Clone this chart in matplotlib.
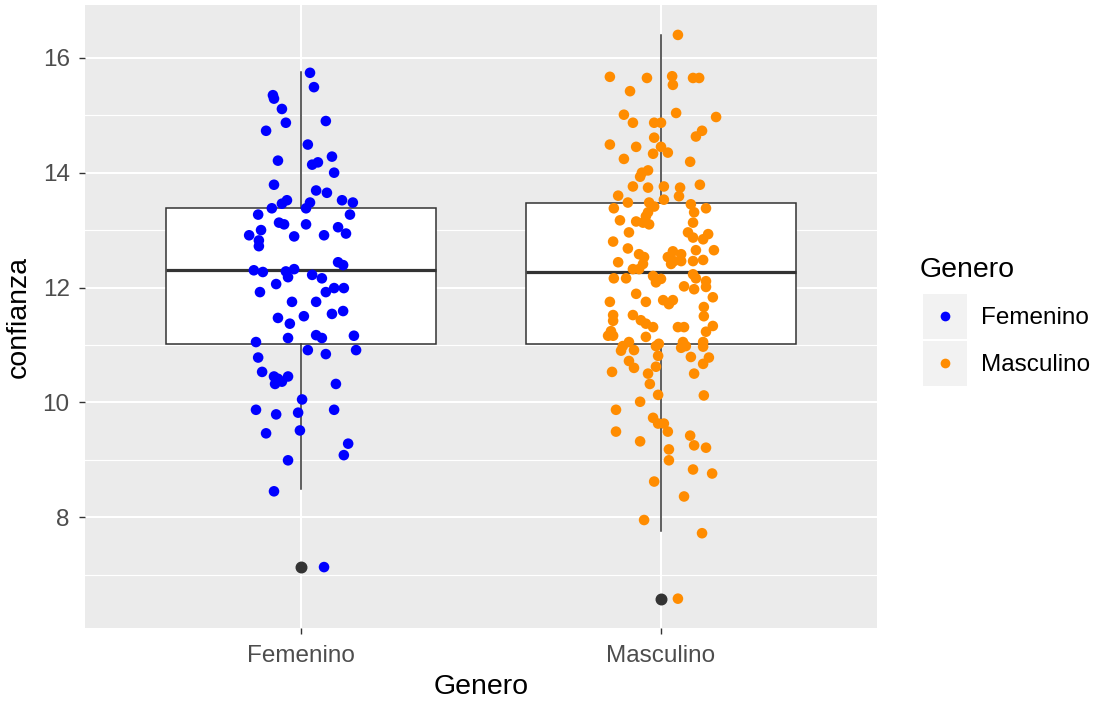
import matplotlib
matplotlib.use("Agg")
import matplotlib.pyplot as plt
from matplotlib.patches import Rectangle
from matplotlib.lines import Line2D
import numpy as np

plt.rcParams['font.family'] = ['Liberation Sans', 'DejaVu Sans']

categories = ["Femenino", "Masculino"]
colors = ["#0000FF", "#FF8C00"]

fem_values = [15.74, 15.49, 15.35, 15.29, 15.11, 14.87, 14.90, 14.73, 14.49, 14.21,
              14.28, 14.14, 14.18, 14.00, 13.79, 13.69, 13.65, 13.52, 13.46, 13.52,
              13.48, 13.48, 13.38, 13.38, 13.27, 13.27, 13.13, 13.10, 13.10, 13.05,
              12.94, 13.00, 12.91, 12.82, 12.72, 12.89, 12.91, 12.44, 12.39, 12.30,
              12.27, 12.28, 12.32, 12.18, 12.22, 12.16, 12.06, 11.92, 11.92, 11.99,
              11.99, 11.75, 11.75, 11.47, 11.50, 11.37, 11.54, 11.59, 11.12, 11.17,
              11.12, 11.16, 11.05, 10.91, 10.84, 10.91, 10.78, 10.53, 10.45, 10.41,
              10.36, 10.32, 10.45, 10.32, 10.05, 9.87, 9.79, 9.82, 9.87, 9.46,
              9.51, 9.28, 9.08, 8.99, 8.45, 7.13]
fem_jitter = [0.025, 0.036, -0.078, -0.075, -0.053, -0.042, 0.069, -0.097, 0.019, -0.064,
              0.086, 0.031, 0.047, 0.092, -0.075, 0.042, 0.072, -0.039, -0.053, 0.114,
              0.144, 0.025, 0.014, -0.081, -0.119, 0.136, -0.061, -0.047, 0.014, 0.103,
              0.125, -0.111, -0.144, -0.117, -0.117, -0.019, 0.064, 0.103, 0.117, -0.131,
              -0.106, -0.042, -0.019, -0.036, 0.031, 0.058, -0.069, -0.114, 0.069, 0.092,
              0.119, -0.025, 0.042, -0.064, 0.008, -0.031, 0.086, 0.117, -0.036, 0.042,
              0.058, 0.147, -0.125, 0.019, 0.069, 0.153, -0.119, -0.108, -0.075, -0.064,
              -0.053, -0.072, -0.036, 0.097, 0.003, -0.125, -0.069, -0.008, 0.092, -0.097,
              -0.003, 0.131, 0.119, -0.036, -0.075, 0.064]

masc_values = [16.40, 15.67, 15.65, 15.68, 15.53, 15.65, 15.65, 15.42, 15.01, 15.04,
               14.97, 14.87, 14.87, 14.87, 14.73, 14.63, 14.61, 14.49, 14.45, 14.45,
               14.33, 14.35,
               14.24, 14.19, 14.04, 14.00, 13.93, 13.76, 13.74,
               13.76, 13.74, 13.79, 13.60, 13.53, 13.59, 13.48, 13.38, 13.48, 13.41,
               13.31, 13.24, 13.45, 13.31, 13.38, 13.17, 13.15, 13.13, 13.10, 13.13,
               12.96, 12.96, 12.87, 12.84, 12.93, 12.80, 12.68, 12.58, 12.53, 12.65,
               12.65, 12.63, 12.53, 12.58, 12.46, 12.46, 12.41, 12.44, 12.41, 12.32,
               12.32, 12.46, 12.48, 12.16, 12.16, 12.20, 12.15, 12.09, 12.23, 12.16,
               12.11, 12.01, 12.02, 11.97, 11.89, 11.75, 11.75, 11.78, 11.78, 11.71,
               11.83, 11.66, 11.50, 11.52, 11.42, 11.52, 11.43, 11.37, 11.31, 11.31,
               11.31, 11.33, 11.24, 11.16, 11.16, 11.14, 11.05, 10.98, 11.02, 11.05,
               10.98, 11.23, 11.05, 10.90, 10.91, 10.98, 10.81, 10.95, 10.97, 10.79,
               10.78, 10.67, 10.72, 10.60, 10.53, 10.62, 10.50, 10.50, 10.32, 10.13,
               10.12, 10.01, 9.87, 9.73, 9.63, 9.63, 9.49, 9.49, 9.42, 9.32,
               9.25, 9.21, 9.18, 8.99, 8.83, 8.76, 8.62, 8.36, 7.95, 7.72, 6.58]
masc_jitter = [0.047, -0.142, -0.039, 0.031, 0.033, 0.089, 0.106, -0.086, -0.103, 0.042,
               0.153, -0.078, -0.019, 0.000, 0.114, 0.097, -0.019, -0.142, -0.069, 0.000,
               -0.022, 0.019,
               -0.103, 0.081, -0.036, -0.053, -0.058, -0.078, -0.036,
               0.008, 0.053, 0.108, -0.119, 0.008, 0.050, -0.092, -0.131, -0.033, -0.019,
               -0.036, -0.042, 0.083, 0.092, 0.125, -0.114, -0.069, -0.050, -0.033, 0.089,
               -0.089, 0.075, 0.089, 0.117, 0.131, -0.133, -0.092, -0.061, -0.047, 0.097,
               0.147, 0.033, 0.019, 0.056, 0.036, 0.056, 0.028, -0.119, -0.050, -0.061,
               -0.078, 0.089, 0.117, -0.131, -0.097, -0.022, 0.000, -0.014, 0.089, 0.097,
               0.125, 0.125, 0.064, 0.092, -0.069, -0.142, -0.042, 0.006, 0.033, 0.022,
               0.144, 0.119, 0.119, -0.133, -0.133, -0.078, -0.056, -0.042, -0.022, 0.047,
               0.064, 0.144, -0.139, -0.147, -0.133, -0.042, -0.089, -0.106, -0.006, 0.061,
               0.069, 0.125, 0.117, -0.111, -0.075, -0.014, -0.008, 0.056, 0.117, 0.083,
               0.133, 0.117, -0.089, -0.075, -0.136, -0.014, -0.036, 0.092, -0.031, -0.008,
               0.119, -0.058, -0.125, -0.022, -0.008, 0.008, 0.019, -0.125, 0.081, -0.058,
               0.092, 0.125, 0.022, 0.022, 0.089, 0.142, -0.019, 0.064, -0.047, 0.114, 0.047]

# Box statistics
box_q1 = [11.02, 11.02]
box_med = [12.30, 12.27]
box_q3 = [13.38, 13.48]
box_whislo = [8.49, 7.76]
box_whishi = [15.75, 16.40]
box_fliers = [[7.13], [6.58]]

y_ticks = [8, 10, 12, 14, 16]
y_minor = [7, 9, 11, 13, 15]

W, H = 1101, 706
fig = plt.figure(figsize=(W / 100, H / 100), dpi=100)
fig.patch.set_facecolor("white")
ax = fig.add_axes([85 / W, 1 - 628 / H, (877 - 85) / W, (628 - 5) / H])
ax.set_facecolor("#EBEBEB")
for s in ax.spines.values():
    s.set_visible(False)

positions = [1, 2]
stats = []
for i in range(2):
    stats.append(dict(med=box_med[i], q1=box_q1[i], q3=box_q3[i],
                      whislo=box_whislo[i], whishi=box_whishi[i],
                      fliers=box_fliers[i]))
ax.bxp(stats, positions=positions, widths=0.75, patch_artist=True,
       showcaps=False,
       boxprops=dict(facecolor="white", edgecolor="#333333", linewidth=1.1),
       medianprops=dict(color="#333333", linewidth=2.3),
       whiskerprops=dict(color="#333333", linewidth=1.1),
       flierprops=dict(marker="o", markerfacecolor="#333333", markeredgecolor="#333333",
                       markersize=7.6, linestyle="none"),
       zorder=2)

series = [(fem_values, fem_jitter), (masc_values, masc_jitter)]
for i, (vals, jit) in enumerate(series):
    xs = positions[i] + np.array(jit)
    ax.scatter(xs, vals, s=58, color=colors[i], edgecolors="none", zorder=3)

all_vals = np.array(fem_values + masc_values)
lo, hi = all_vals.min(), all_vals.max()
pad = (hi - lo) * 0.05
ax.set_ylim(lo - pad - 0.02, hi + pad + 0.03)
ax.set_xlim(0.4, 2.6)

ax.set_yticks(y_ticks)
ax.set_yticks(y_minor, minor=True)
ax.set_xticks(positions)
ax.set_xticklabels(categories)
ax.set_axisbelow(True)
ax.grid(which="major", color="white", linewidth=1.5)
ax.grid(which="minor", axis="y", color="white", linewidth=0.8)
ax.tick_params(axis="both", which="major", length=4, width=1.0, color="#333333",
               labelcolor="#4D4D4D", labelsize=17.5)
ax.tick_params(axis="x", which="major", pad=8)
ax.tick_params(axis="y", which="major", pad=7)
ax.tick_params(axis="both", which="minor", length=0)

ax.set_xlabel("Genero", fontsize=20.5, color="black", labelpad=5)
ax.set_ylabel("confianza", fontsize=20.5, color="black", labelpad=8)

# Legend (ggplot style)
def fx(px):
    return px / W

def fy(py):
    return 1 - py / H

fig.text(fx(920), fy(270), "Genero", fontsize=20.5, ha="left", va="center", color="black")
key_tops = [294, 341]
for i, cat in enumerate(categories):
    top = key_tops[i]
    fig.patches.append(Rectangle((fx(923), fy(top + 45)), 44 / W, 45 / H,
                                 transform=fig.transFigure, facecolor="#F2F2F2",
                                 edgecolor="none"))
    fig.lines.append(Line2D([fx(945)], [fy(top + 22.5)], transform=fig.transFigure,
                            marker="o", markersize=7, color=colors[i],
                            markeredgecolor="none", linestyle="none"))
    fig.text(fx(981), fy(top + 24), cat, fontsize=17.5, ha="left", va="center",
             color="black")

fig.savefig("out.png", dpi=100)
